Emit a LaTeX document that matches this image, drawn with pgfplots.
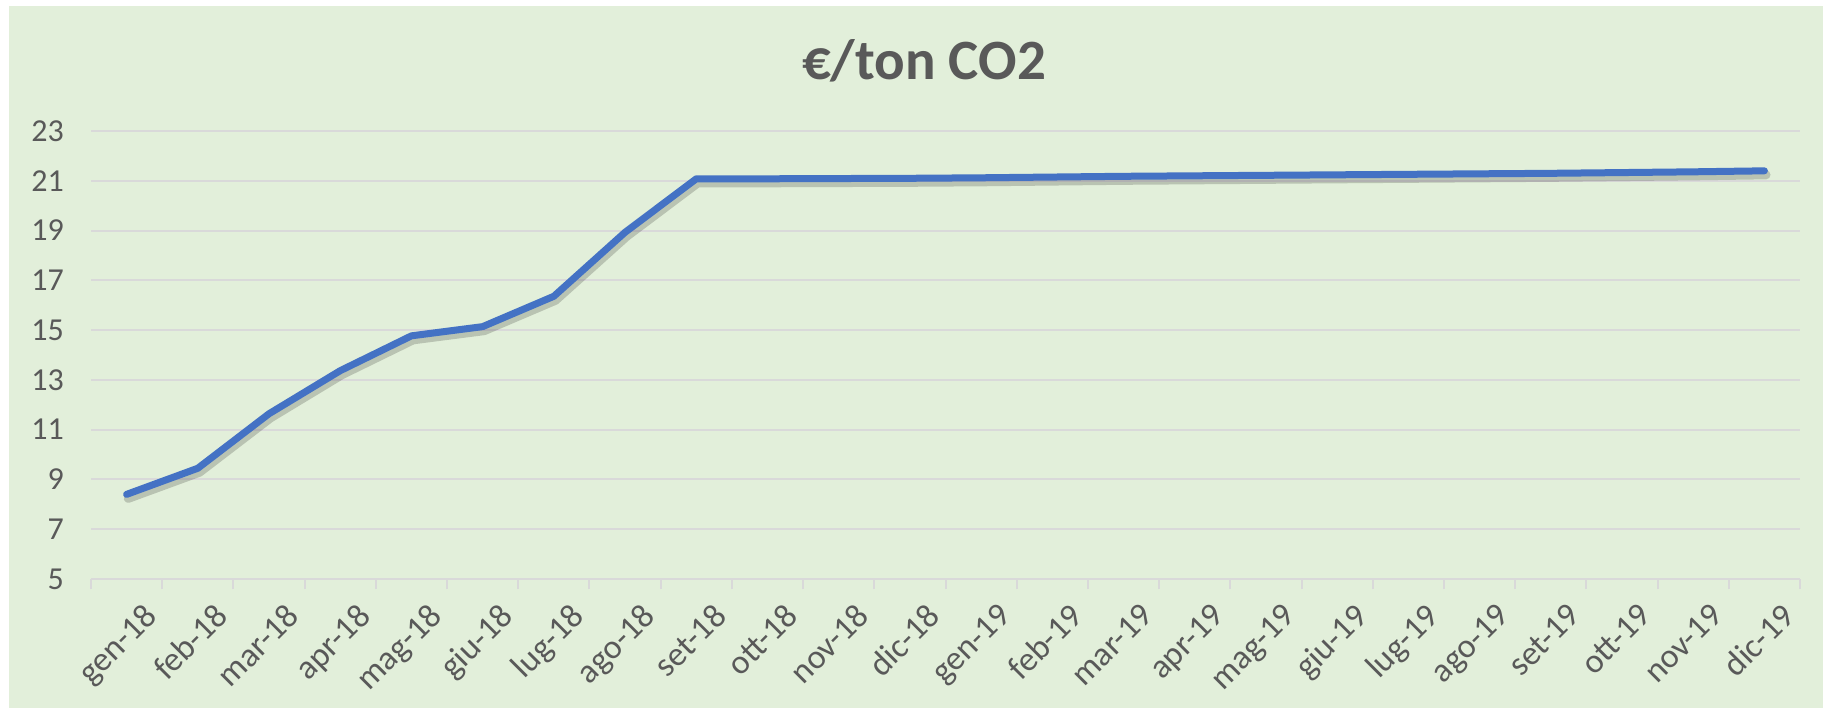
\documentclass[border=0pt]{standalone}
\usepackage{fontspec}
\setmainfont{Carlito}
\usepackage{pgfplots}
\pgfplotsset{compat=1.18}
\definecolor{bg}{HTML}{E2EFDA}
\definecolor{txt}{HTML}{595959}
\definecolor{gridc}{HTML}{D9D9D9}
\definecolor{lineblue}{HTML}{4472C4}

\pgfplotstableread{
x y
1 8.40
2 9.45
3 11.64
4 13.37
5 14.77
6 15.14
7 16.36
8 18.93
9 21.08
10 21.08
11 21.09
12 21.10
13 21.12
14 21.15
15 21.18
16 21.20
17 21.22
18 21.24
19 21.26
20 21.28
21 21.30
22 21.33
23 21.36
24 21.40
}\co

\begin{document}
\begin{tikzpicture}
\fill[white] (0,0) rectangle (911.5pt,354pt);
\fill[bg] (4.5pt,0) rectangle (911.5pt,351pt);
\node[font=\fontsize{28.5}{32}\selectfont\bfseries, text=txt] at (462pt,323.5pt) {€/ton CO2};
\begin{axis}[
  at={(45.5pt,64.5pt)}, anchor=south west,
  scale only axis, width=854.5pt, height=224pt,
  xmin=0.5, xmax=24.5, ymin=5, ymax=23,
  axis line style={draw=none},
  ytick={5,7,...,23},
  ymajorgrids, grid style={draw=gridc, line width=1pt},
  major tick length=0pt,
  xtick={1,...,24},
  minor xtick={0.5,1.5,...,24.5},
  minor tick length=5pt,
  tick align=outside,
  xtick pos=bottom, ytick pos=left,
  minor tick style={draw=gridc, line width=1pt},
  xticklabels={gen-18,feb-18,mar-18,apr-18,mag-18,giu-18,lug-18,ago-18,set-18,ott-18,nov-18,dic-18,
               gen-19,feb-19,mar-19,apr-19,mag-19,giu-19,lug-19,ago-19,set-19,ott-19,nov-19,dic-19},
  tick label style={font=\fontsize{16}{18}\selectfont, text=txt},
  /pgf/number format/assume math mode=true,
  yticklabel style={xshift=-10pt},
  xticklabel style={font=\fontsize{17}{19}\selectfont, rotate=45, anchor=north east, xshift=1pt, yshift=-10pt},
  clip=false,
]
\draw[gridc, line width=1.2pt] (axis cs:0.5,5) -- (axis cs:24.5,5);
\addplot[black, opacity=0.18, line width=4.5pt, line cap=round, line join=round,
  transform canvas={xshift=0.8pt, yshift=-2pt}] table {\co};
\addplot[lineblue, line width=3.5pt, line cap=round, line join=round] table {\co};
\end{axis}
\end{tikzpicture}
\end{document}
